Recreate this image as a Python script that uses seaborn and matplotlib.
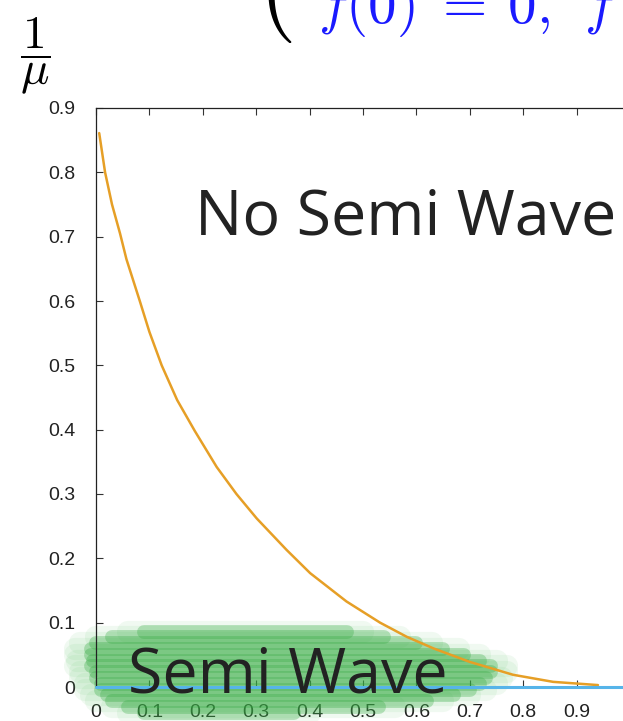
import numpy as np
import pandas as pd
import matplotlib
matplotlib.use("Agg")
import matplotlib.pyplot as plt
import seaborn as sns

# threshold curve 1/mu against the parameter
curve_x = [0.006, 0.017, 0.030, 0.045, 0.057, 0.082, 0.100, 0.123, 0.152, 0.185,
           0.226, 0.263, 0.301, 0.357, 0.401, 0.469, 0.532, 0.582, 0.632, 0.700,
           0.781, 0.856, 0.940]
curve_y = [0.861, 0.800, 0.750, 0.705, 0.665, 0.600, 0.552, 0.500, 0.446, 0.398,
           0.342, 0.300, 0.262, 0.213, 0.177, 0.133, 0.100, 0.078, 0.060, 0.039,
           0.019, 0.008, 0.003]

# the zero line along the bottom
zero_x = [0.0, 1.0]
zero_y = [0.0, 0.0]

# brush strokes of the green "Semi Wave" highlight: start, end, height
stroke_y = [0.086, 0.077, 0.068, 0.059, 0.050, 0.041, 0.032, 0.023,
            0.014, 0.005, -0.004, -0.013, -0.022, -0.031, -0.040]
stroke_x0 = [0.06, 0.00, -0.03, -0.04, -0.04, -0.035, -0.04, -0.03,
             -0.03, -0.02, -0.02, -0.01, 0.00, 0.03, 0.06]
stroke_x1 = [0.50, 0.57, 0.63, 0.68, 0.72, 0.75, 0.77, 0.77,
             0.76, 0.75, 0.73, 0.70, 0.65, 0.56, 0.40]

x_ticks = [0, 0.1, 0.2, 0.3, 0.4, 0.5, 0.6, 0.7, 0.8, 0.9, 1.0]
y_ticks = [0, 0.1, 0.2, 0.3, 0.4, 0.5, 0.6, 0.7, 0.8, 0.9]

sns.set_style("ticks")
plt.rcParams['font.family'] = ['Liberation Sans', 'DejaVu Sans']
plt.rcParams['mathtext.fontset'] = 'cm'

fig = plt.figure(figsize=(6.23, 7.21), dpi=100)
ax = fig.add_axes([96 / 623, 34 / 721, 534 / 623, 579 / 721])

# green highlight: a soft wide layer, then the brush strokes
for x0, x1, yy in zip(stroke_x0, stroke_x1, stroke_y):
    ax.plot([x0, x1], [yy, yy], color='#5cc364', lw=16, alpha=0.09,
            solid_capstyle='round', clip_on=False, zorder=1)
for x0, x1, yy in zip(stroke_x0, stroke_x1, stroke_y):
    ax.plot([x0 + 0.03, x1 - 0.03], [yy, yy], color='#31a83e', lw=10, alpha=0.30,
            solid_capstyle='round', clip_on=False, zorder=1)

df_curve = pd.DataFrame({'x': curve_x, 'y': curve_y})
sns.lineplot(data=df_curve, x='x', y='y', color='#e69f26', lw=1.8, ax=ax, zorder=3)
sns.lineplot(x=zero_x, y=zero_y, color='#56b4e9', lw=2.2, ax=ax, zorder=4, clip_on=False)

ax.set_xlim(0, 1)
ax.set_ylim(0, 0.9)
ax.set_xticks(x_ticks)
ax.set_yticks(y_ticks)
ax.set_xticklabels(['%g' % t for t in x_ticks])
ax.set_yticklabels(['%g' % t for t in y_ticks])
ax.tick_params(direction='in', length=5, width=0.8, color='#333333',
               top=True, right=True, labelsize=14, labelcolor='#222222')
ax.tick_params(axis='x', pad=12)
ax.tick_params(axis='y', pad=15)
for s in ax.spines.values():
    s.set_color('#222222')
    s.set_linewidth(0.9)
ax.set_xlabel('')
ax.set_ylabel('')

ax.text(0.185, 0.703, 'No Semi Wave', fontsize=45.3, family='Open Sans',
        color='#222222', ha='left', va='baseline', zorder=5)
ax.text(0.06, -0.009, 'Semi Wave', fontsize=45.3, family='Open Sans',
        color='#222222', ha='left', va='baseline', zorder=5, clip_on=False)

# label of the vertical axis and the cropped formula on top
fig.text(35 / 623, 1 - 56 / 721, r'$\dfrac{1}{\mu}$', fontsize=34,
         ha='center', va='center', color='black')
fig.text(258 / 623, 1 - 45 / 721, r'$($', fontsize=70,
         ha='left', va='bottom', color='black')
fig.text(318 / 623, 1 - 23 / 721, r'$f(0)\;=\:0,\;\,f$', fontsize=41,
         ha='left', va='baseline', color='#1a1aff')

fig.savefig('out.png', dpi=100)
